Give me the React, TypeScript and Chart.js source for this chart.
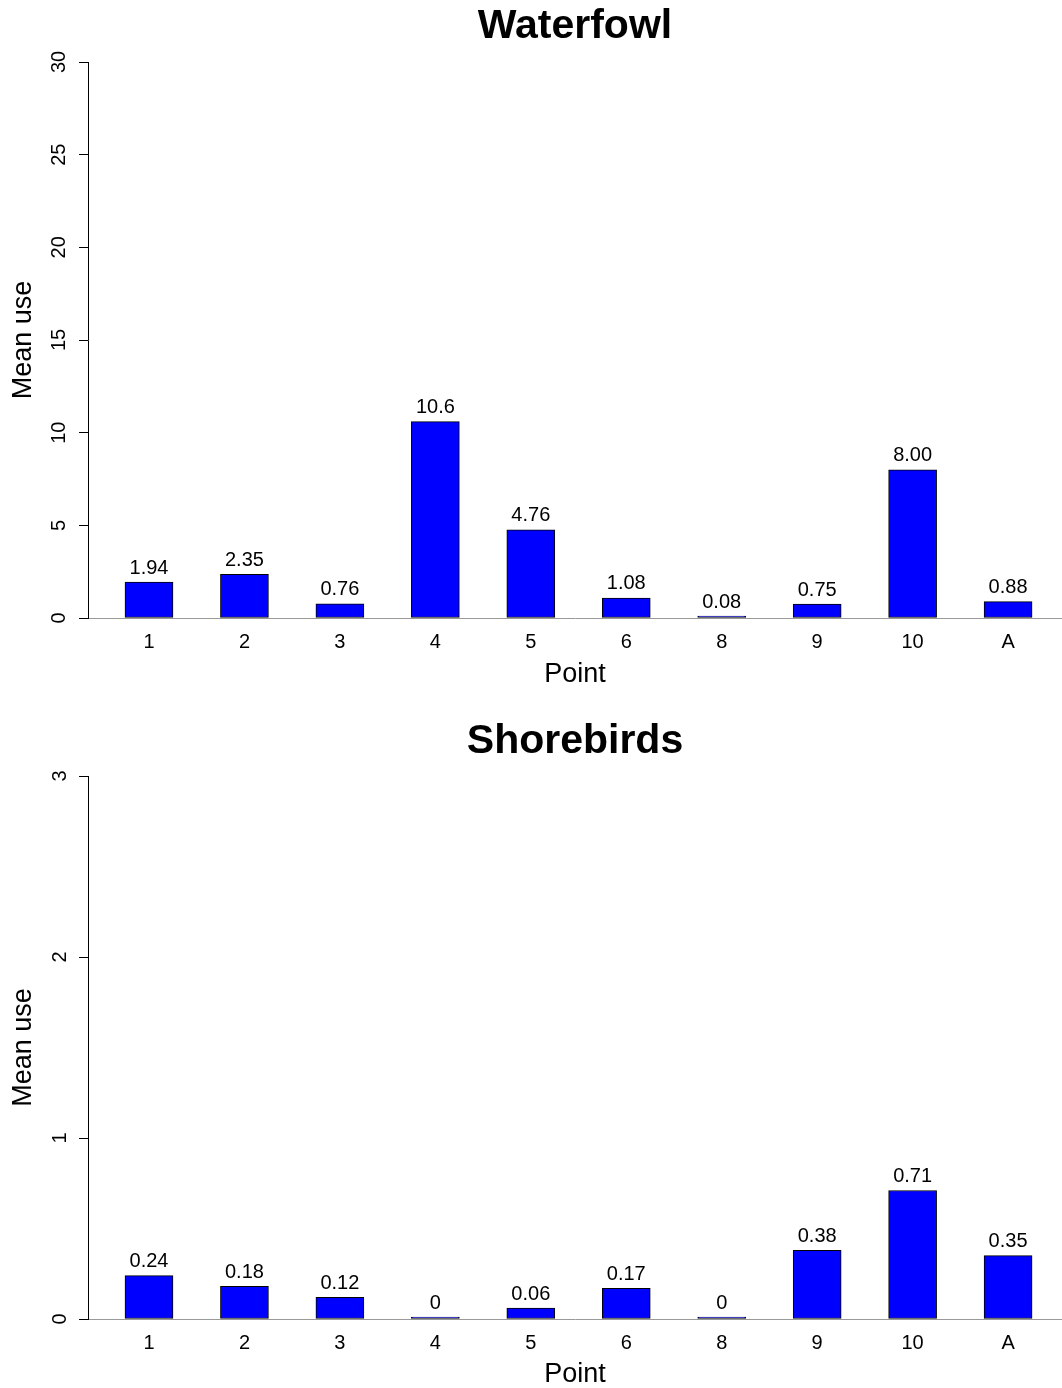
import React, { useEffect, useRef } from "react";
import { Chart, registerables } from "chart.js";

Chart.register(...registerables);

// ---- Data ----
const categories = ["1", "2", "3", "4", "5", "6", "8", "9", "10", "A"];

const waterfowlValues = [1.94, 2.35, 0.76, 10.6, 4.76, 1.08, 0.08, 0.75, 8.0, 0.88];
const waterfowlLabels = ["1.94", "2.35", "0.76", "10.6", "4.76", "1.08", "0.08", "0.75", "8.00", "0.88"];
const waterfowlYTicks = [0, 5, 10, 15, 20, 25, 30];

const shorebirdValues = [0.24, 0.18, 0.12, 0, 0.06, 0.17, 0, 0.38, 0.71, 0.35];
const shorebirdLabels = ["0.24", "0.18", "0.12", "0", "0.06", "0.17", "0", "0.38", "0.71", "0.35"];
const shorebirdYTicks = [0, 1, 2, 3];

const FONT = "'Liberation Sans', Arial, Helvetica, sans-serif";

const valueLabelPlugin = {
  id: "valueLabels",
  afterDatasetsDraw(chart: any, _args: any, opts: any) {
    const ctx = chart.ctx;
    const meta = chart.getDatasetMeta(0);
    ctx.save();
    ctx.font = `20px ${FONT}`;
    ctx.fillStyle = "#000";
    ctx.textAlign = "center";
    ctx.textBaseline = "alphabetic";
    meta.data.forEach((el: any, i: number) => {
      const top = Math.min(el.y, el.base);
      ctx.fillText(opts.labels[i], el.x, top - 8.5);
    });
    ctx.restore();
  },
};

type PanelProps = {
  title: string;
  values: number[];
  labels: string[];
  yTicks: number[];
  height: number;
  titlePadTop: number;
  titlePadBottom: number;
  xAxisHeight: number;
  xTitlePadBottom: number;
  yTickPadding: number;
};

function Panel(p: PanelProps) {
  const ref = useRef<HTMLCanvasElement | null>(null);
  useEffect(() => {
    if (!ref.current) return;
    const yMax = p.yTicks[p.yTicks.length - 1];
    const chart = new Chart(ref.current, {
      type: "bar",
      data: {
        datasets: [
          {
            data: p.values.map((v, i) => ({ x: i + 1, y: v })),
            backgroundColor: "#0000ff",
            borderColor: "#000000",
            borderWidth: 1,
            borderSkipped: false,
            barThickness: 48,
            minBarLength: 2,
          },
        ],
      },
      options: {
        responsive: false,
        animation: false,
        devicePixelRatio: 1,
        layout: { padding: 0 },
        plugins: {
          legend: { display: false },
          tooltip: { enabled: false },
          title: {
            display: true,
            fullSize: false,
            text: p.title,
            color: "#000",
            font: { family: FONT, size: 41, weight: "bold", lineHeight: 1.2 },
            padding: { top: p.titlePadTop, bottom: p.titlePadBottom },
          },
          valueLabels: { labels: p.labels },
        } as any,
        scales: {
          x: {
            type: "linear",
            offset: false,
            min: 0.361,
            max: 10.565,
            grid: { display: false, drawTicks: false, offset: false },
            border: { display: true, color: "#999999", width: 1 },
            afterBuildTicks: (scale: any) => {
              scale.ticks = categories.map((_, i) => ({ value: i + 1 }));
            },
            afterFit: (scale: any) => {
              scale.height = p.xAxisHeight;
            },
            ticks: {
              color: "#000",
              padding: 12.5,
              maxRotation: 0,
              minRotation: 0,
              autoSkip: false,
              font: { family: FONT, size: 20, lineHeight: 1.2 },
              callback: (v: any) => categories[Math.round(v) - 1] ?? "",
            },
            title: {
              display: true,
              text: "Point",
              color: "#000",
              font: { family: FONT, size: 27, lineHeight: 1 },
              padding: { top: 0, bottom: p.xTitlePadBottom },
            },
          },
          y: {
            type: "linear",
            min: 0,
            max: yMax,
            grid: {
              display: true,
              drawOnChartArea: false,
              drawTicks: true,
              tickLength: 9,
              color: "#000",
              lineWidth: 1,
            },
            border: { display: true, color: "#000", width: 1 },
            afterBuildTicks: (scale: any) => {
              scale.ticks = p.yTicks.map((v) => ({ value: v }));
            },
            afterFit: (scale: any) => {
              scale.width = 88;
            },
            ticks: {
              color: "#000",
              padding: p.yTickPadding,
              minRotation: 90,
              maxRotation: 90,
              crossAlign: "center",
              font: { family: FONT, size: 20, lineHeight: 1.2 },
              callback: (v: any) => String(v),
            },
            title: {
              display: true,
              text: "Mean use",
              color: "#000",
              font: { family: FONT, size: 27, lineHeight: 1 },
              padding: { top: 10.5, bottom: 0 },
            },
          },
        },
      } as any,
      plugins: [valueLabelPlugin],
    });
    return () => chart.destroy();
  }, []);
  return (
    <canvas
      ref={ref}
      width={1062}
      height={p.height}
      style={{ display: "block", width: 1062, height: p.height }}
    />
  );
}

export default function App() {
  useEffect(() => {
    document.body.style.margin = "0";
    document.body.style.background = "#ffffff";
  }, []);
  return (
    <div style={{ width: 1062, height: 1388, background: "#fff" }}>
      <Panel
        title="Waterfowl"
        values={waterfowlValues}
        labels={waterfowlLabels}
        yTicks={waterfowlYTicks}
        height={694}
        titlePadTop={2.4}
        titlePadBottom={10.4}
        xAxisHeight={76}
        xTitlePadBottom={5.5}
        yTickPadding={8}
      />
      <Panel
        title="Shorebirds"
        values={shorebirdValues}
        labels={shorebirdLabels}
        yTicks={shorebirdYTicks}
        height={694}
        titlePadTop={23.4}
        titlePadBottom={9.4}
        xAxisHeight={69}
        xTitlePadBottom={0}
        yTickPadding={13.4}
      />
    </div>
  );
}
